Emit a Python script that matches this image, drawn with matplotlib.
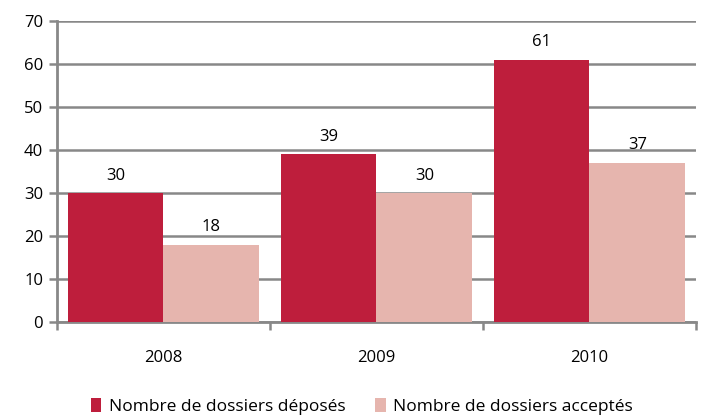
import numpy as np
import matplotlib
matplotlib.use("Agg")
import matplotlib.pyplot as plt

years = ["2008", "2009", "2010"]
deposes = [30, 39, 61]
acceptes = [18, 30, 37]
series_labels = ["Nombre de dossiers déposés", "Nombre de dossiers acceptés"]

plt.rcParams['font.family'] = ['Open Sans', 'DejaVu Sans']

fig = plt.figure(figsize=(7.03, 4.16), dpi=100)
ax = fig.add_axes([0.081, 0.226, 0.909, 0.7235])

x = np.arange(len(years))
w = 0.45
grid_col = '#888888'

b1 = ax.bar(x - w / 2, deposes, w, color='#be1e3c', label=series_labels[0], zorder=3)
b2 = ax.bar(x + w / 2, acceptes, w, color='#e6b5ae', label=series_labels[1], zorder=3)

for bars in (b1, b2):
    for rect in bars:
        h = rect.get_height()
        ax.text(rect.get_x() + rect.get_width() / 2, h + 2.2, str(int(h)),
                ha='center', va='bottom', fontsize=12, color='black')

ax.set_xlim(-0.5, 2.5)
ax.set_ylim(0, 70)
ax.set_yticks(range(0, 71, 10))
ax.yaxis.grid(True, color=grid_col, linewidth=1.8, zorder=0)
ax.set_axisbelow(True)

ax.set_xticks([-0.5, 0.5, 1.5, 2.5])
ax.set_xticklabels([])
ax.set_xticks(x, minor=True)
ax.set_xticklabels(years, minor=True)
ax.tick_params(axis='x', which='minor', length=0, pad=20, labelsize=12)
ax.tick_params(axis='x', which='major', length=6, width=1.8, color=grid_col, direction='out')
ax.tick_params(axis='y', length=6, width=1.8, color=grid_col, labelsize=12, pad=4)

for s in ('top', 'right'):
    ax.spines[s].set_visible(False)
for s in ('left', 'bottom'):
    ax.spines[s].set_color(grid_col)
    ax.spines[s].set_linewidth(2)

fig.legend(handles=[b1, b2], labels=series_labels, loc='lower center',
           bbox_to_anchor=(0.515, -0.035), ncol=2, frameon=False, fontsize=12.5,
           handlelength=0.6, handleheight=0.9, columnspacing=1.7, handletextpad=0.45)

fig.savefig("out.png", dpi=100)
